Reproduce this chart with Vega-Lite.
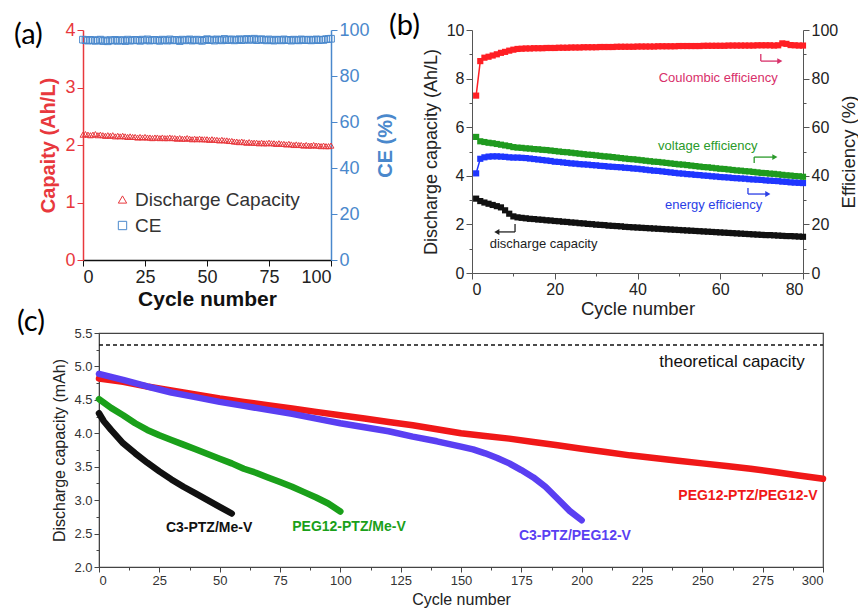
{
"$schema": "https://vega.github.io/schema/vega-lite/v6.json",
"background": "white",
"padding": {"left": 14, "top": 12, "right": 2, "bottom": 2},
"spacing": -11,
"resolve": {"scale": {"color": "independent", "shape": "independent"}, "legend": {"color": "independent", "shape": "independent"}},
"config": {"view": {"stroke": null}, "font": "Liberation Sans", "axis": {"grid": false, "labelFont": "Liberation Sans", "titleFont": "Liberation Sans"}},
"datasets": {
"aDC": [
{"x":0,"y":2.18,"s":"Discharge Capacity"},{"x":1,"y":2.19,"s":"Discharge Capacity"},{"x":2,"y":2.18,"s":"Discharge Capacity"},{"x":3,"y":2.17,"s":"Discharge Capacity"},{"x":4,"y":2.18,"s":"Discharge Capacity"},{"x":5,"y":2.19,"s":"Discharge Capacity"},{"x":6,"y":2.17,"s":"Discharge Capacity"},{"x":7,"y":2.18,"s":"Discharge Capacity"},{"x":8,"y":2.17,"s":"Discharge Capacity"},{"x":9,"y":2.16,"s":"Discharge Capacity"},
{"x":10,"y":2.17,"s":"Discharge Capacity"},{"x":11,"y":2.16,"s":"Discharge Capacity"},{"x":12,"y":2.17,"s":"Discharge Capacity"},{"x":13,"y":2.15,"s":"Discharge Capacity"},{"x":14,"y":2.16,"s":"Discharge Capacity"},{"x":15,"y":2.15,"s":"Discharge Capacity"},{"x":16,"y":2.16,"s":"Discharge Capacity"},{"x":17,"y":2.15,"s":"Discharge Capacity"},{"x":18,"y":2.14,"s":"Discharge Capacity"},{"x":19,"y":2.15,"s":"Discharge Capacity"},
{"x":20,"y":2.14,"s":"Discharge Capacity"},{"x":21,"y":2.14,"s":"Discharge Capacity"},{"x":22,"y":2.13,"s":"Discharge Capacity"},{"x":23,"y":2.14,"s":"Discharge Capacity"},{"x":24,"y":2.13,"s":"Discharge Capacity"},{"x":25,"y":2.14,"s":"Discharge Capacity"},{"x":26,"y":2.13,"s":"Discharge Capacity"},{"x":27,"y":2.13,"s":"Discharge Capacity"},{"x":28,"y":2.12,"s":"Discharge Capacity"},{"x":29,"y":2.13,"s":"Discharge Capacity"},
{"x":30,"y":2.13,"s":"Discharge Capacity"},{"x":31,"y":2.12,"s":"Discharge Capacity"},{"x":32,"y":2.13,"s":"Discharge Capacity"},{"x":33,"y":2.12,"s":"Discharge Capacity"},{"x":34,"y":2.12,"s":"Discharge Capacity"},{"x":35,"y":2.13,"s":"Discharge Capacity"},{"x":36,"y":2.12,"s":"Discharge Capacity"},{"x":37,"y":2.12,"s":"Discharge Capacity"},{"x":38,"y":2.11,"s":"Discharge Capacity"},{"x":39,"y":2.12,"s":"Discharge Capacity"},
{"x":40,"y":2.11,"s":"Discharge Capacity"},{"x":41,"y":2.11,"s":"Discharge Capacity"},{"x":42,"y":2.12,"s":"Discharge Capacity"},{"x":43,"y":2.11,"s":"Discharge Capacity"},{"x":44,"y":2.10,"s":"Discharge Capacity"},{"x":45,"y":2.11,"s":"Discharge Capacity"},{"x":46,"y":2.10,"s":"Discharge Capacity"},{"x":47,"y":2.11,"s":"Discharge Capacity"},{"x":48,"y":2.10,"s":"Discharge Capacity"},{"x":49,"y":2.10,"s":"Discharge Capacity"},
{"x":50,"y":2.10,"s":"Discharge Capacity"},{"x":51,"y":2.09,"s":"Discharge Capacity"},{"x":52,"y":2.10,"s":"Discharge Capacity"},{"x":53,"y":2.09,"s":"Discharge Capacity"},{"x":54,"y":2.09,"s":"Discharge Capacity"},{"x":55,"y":2.08,"s":"Discharge Capacity"},{"x":56,"y":2.09,"s":"Discharge Capacity"},{"x":57,"y":2.08,"s":"Discharge Capacity"},{"x":58,"y":2.08,"s":"Discharge Capacity"},{"x":59,"y":2.07,"s":"Discharge Capacity"},
{"x":60,"y":2.07,"s":"Discharge Capacity"},{"x":61,"y":2.06,"s":"Discharge Capacity"},{"x":62,"y":2.06,"s":"Discharge Capacity"},{"x":63,"y":2.05,"s":"Discharge Capacity"},{"x":64,"y":2.06,"s":"Discharge Capacity"},{"x":65,"y":2.05,"s":"Discharge Capacity"},{"x":66,"y":2.04,"s":"Discharge Capacity"},{"x":67,"y":2.05,"s":"Discharge Capacity"},{"x":68,"y":2.04,"s":"Discharge Capacity"},{"x":69,"y":2.04,"s":"Discharge Capacity"},
{"x":70,"y":2.04,"s":"Discharge Capacity"},{"x":71,"y":2.03,"s":"Discharge Capacity"},{"x":72,"y":2.04,"s":"Discharge Capacity"},{"x":73,"y":2.03,"s":"Discharge Capacity"},{"x":74,"y":2.03,"s":"Discharge Capacity"},{"x":75,"y":2.04,"s":"Discharge Capacity"},{"x":76,"y":2.03,"s":"Discharge Capacity"},{"x":77,"y":2.03,"s":"Discharge Capacity"},{"x":78,"y":2.02,"s":"Discharge Capacity"},{"x":79,"y":2.03,"s":"Discharge Capacity"},
{"x":80,"y":2.02,"s":"Discharge Capacity"},{"x":81,"y":2.02,"s":"Discharge Capacity"},{"x":82,"y":2.01,"s":"Discharge Capacity"},{"x":83,"y":2.02,"s":"Discharge Capacity"},{"x":84,"y":2.01,"s":"Discharge Capacity"},{"x":85,"y":2.00,"s":"Discharge Capacity"},{"x":86,"y":2.01,"s":"Discharge Capacity"},{"x":87,"y":2.00,"s":"Discharge Capacity"},{"x":88,"y":2.00,"s":"Discharge Capacity"},{"x":89,"y":1.99,"s":"Discharge Capacity"},
{"x":90,"y":2.00,"s":"Discharge Capacity"},{"x":91,"y":1.99,"s":"Discharge Capacity"},{"x":92,"y":1.99,"s":"Discharge Capacity"},{"x":93,"y":2.00,"s":"Discharge Capacity"},{"x":94,"y":1.99,"s":"Discharge Capacity"},{"x":95,"y":1.99,"s":"Discharge Capacity"},{"x":96,"y":1.98,"s":"Discharge Capacity"},{"x":97,"y":1.99,"s":"Discharge Capacity"},{"x":98,"y":1.98,"s":"Discharge Capacity"},{"x":99,"y":1.98,"s":"Discharge Capacity"},{"x":100,"y":1.99,"s":"Discharge Capacity"}
],
"aCE": [
{"x":0,"y":95.8,"s":"CE"},{"x":1,"y":95.6,"s":"CE"},{"x":2,"y":95.4,"s":"CE"},{"x":3,"y":95.7,"s":"CE"},{"x":4,"y":95.5,"s":"CE"},{"x":5,"y":95.3,"s":"CE"},{"x":6,"y":95.6,"s":"CE"},{"x":7,"y":95.8,"s":"CE"},{"x":8,"y":95.2,"s":"CE"},{"x":9,"y":95.5,"s":"CE"},
{"x":10,"y":95.1,"s":"CE"},{"x":11,"y":95.6,"s":"CE"},{"x":12,"y":95.4,"s":"CE"},{"x":13,"y":95.7,"s":"CE"},{"x":14,"y":95.3,"s":"CE"},{"x":15,"y":95.5,"s":"CE"},{"x":16,"y":95.6,"s":"CE"},{"x":17,"y":95.2,"s":"CE"},{"x":18,"y":95.8,"s":"CE"},{"x":19,"y":95.4,"s":"CE"},
{"x":20,"y":95.5,"s":"CE"},{"x":21,"y":95.7,"s":"CE"},{"x":22,"y":95.6,"s":"CE"},{"x":23,"y":95.3,"s":"CE"},{"x":24,"y":95.8,"s":"CE"},{"x":25,"y":95.5,"s":"CE"},{"x":26,"y":95.9,"s":"CE"},{"x":27,"y":95.4,"s":"CE"},{"x":28,"y":95.6,"s":"CE"},{"x":29,"y":95.7,"s":"CE"},
{"x":30,"y":95.5,"s":"CE"},{"x":31,"y":95.3,"s":"CE"},{"x":32,"y":95.8,"s":"CE"},{"x":33,"y":95.6,"s":"CE"},{"x":34,"y":95.4,"s":"CE"},{"x":35,"y":95.9,"s":"CE"},{"x":36,"y":95.5,"s":"CE"},{"x":37,"y":95.7,"s":"CE"},{"x":38,"y":95.6,"s":"CE"},{"x":39,"y":95.2,"s":"CE"},
{"x":40,"y":95.8,"s":"CE"},{"x":41,"y":95.5,"s":"CE"},{"x":42,"y":95.7,"s":"CE"},{"x":43,"y":95.9,"s":"CE"},{"x":44,"y":95.4,"s":"CE"},{"x":45,"y":95.6,"s":"CE"},{"x":46,"y":95.8,"s":"CE"},{"x":47,"y":95.5,"s":"CE"},{"x":48,"y":95.3,"s":"CE"},{"x":49,"y":95.7,"s":"CE"},
{"x":50,"y":96.0,"s":"CE"},{"x":51,"y":95.6,"s":"CE"},{"x":52,"y":95.8,"s":"CE"},{"x":53,"y":95.4,"s":"CE"},{"x":54,"y":95.9,"s":"CE"},{"x":55,"y":95.7,"s":"CE"},{"x":56,"y":95.5,"s":"CE"},{"x":57,"y":96.1,"s":"CE"},{"x":58,"y":95.6,"s":"CE"},{"x":59,"y":95.8,"s":"CE"},
{"x":60,"y":95.9,"s":"CE"},{"x":61,"y":95.5,"s":"CE"},{"x":62,"y":95.7,"s":"CE"},{"x":63,"y":96.0,"s":"CE"},{"x":64,"y":95.6,"s":"CE"},{"x":65,"y":95.8,"s":"CE"},{"x":66,"y":96.1,"s":"CE"},{"x":67,"y":95.7,"s":"CE"},{"x":68,"y":95.9,"s":"CE"},{"x":69,"y":96.2,"s":"CE"},
{"x":70,"y":95.6,"s":"CE"},{"x":71,"y":95.8,"s":"CE"},{"x":72,"y":96.0,"s":"CE"},{"x":73,"y":95.7,"s":"CE"},{"x":74,"y":95.5,"s":"CE"},{"x":75,"y":95.9,"s":"CE"},{"x":76,"y":95.6,"s":"CE"},{"x":77,"y":95.4,"s":"CE"},{"x":78,"y":95.8,"s":"CE"},{"x":79,"y":95.7,"s":"CE"},
{"x":80,"y":95.5,"s":"CE"},{"x":81,"y":95.9,"s":"CE"},{"x":82,"y":95.6,"s":"CE"},{"x":83,"y":95.7,"s":"CE"},{"x":84,"y":95.4,"s":"CE"},{"x":85,"y":95.8,"s":"CE"},{"x":86,"y":95.6,"s":"CE"},{"x":87,"y":95.5,"s":"CE"},{"x":88,"y":95.9,"s":"CE"},{"x":89,"y":95.7,"s":"CE"},
{"x":90,"y":95.6,"s":"CE"},{"x":91,"y":95.8,"s":"CE"},{"x":92,"y":95.5,"s":"CE"},{"x":93,"y":95.7,"s":"CE"},{"x":94,"y":95.9,"s":"CE"},{"x":95,"y":95.6,"s":"CE"},{"x":96,"y":95.8,"s":"CE"},{"x":97,"y":95.7,"s":"CE"},{"x":98,"y":96.0,"s":"CE"},{"x":99,"y":96.1,"s":"CE"},{"x":100,"y":96.2,"s":"CE"}
],
"bDC": [
{"x":1,"y":3.06},{"x":2,"y":2.96},{"x":3,"y":2.9},{"x":4,"y":2.85},{"x":5,"y":2.8},{"x":6,"y":2.75},{"x":7,"y":2.7},{"x":8,"y":2.58},{"x":9,"y":2.44},{"x":10,"y":2.33},
{"x":11,"y":2.29},{"x":12,"y":2.27},{"x":13,"y":2.25},{"x":14,"y":2.23},{"x":15,"y":2.22},{"x":16,"y":2.2},{"x":17,"y":2.19},{"x":18,"y":2.17},{"x":19,"y":2.16},{"x":20,"y":2.14},
{"x":21,"y":2.13},{"x":22,"y":2.11},{"x":23,"y":2.1},{"x":24,"y":2.08},{"x":25,"y":2.07},{"x":26,"y":2.05},{"x":27,"y":2.04},{"x":28,"y":2.02},{"x":29,"y":2.01},{"x":30,"y":1.99},
{"x":31,"y":1.98},{"x":32,"y":1.97},{"x":33,"y":1.95},{"x":34,"y":1.94},{"x":35,"y":1.93},{"x":36,"y":1.92},{"x":37,"y":1.9},{"x":38,"y":1.89},{"x":39,"y":1.88},{"x":40,"y":1.87},
{"x":41,"y":1.86},{"x":42,"y":1.85},{"x":43,"y":1.84},{"x":44,"y":1.83},{"x":45,"y":1.82},{"x":46,"y":1.81},{"x":47,"y":1.8},{"x":48,"y":1.79},{"x":49,"y":1.78},{"x":50,"y":1.77},
{"x":51,"y":1.76},{"x":52,"y":1.75},{"x":53,"y":1.74},{"x":54,"y":1.73},{"x":55,"y":1.72},{"x":56,"y":1.71},{"x":57,"y":1.7},{"x":58,"y":1.69},{"x":59,"y":1.68},{"x":60,"y":1.67},
{"x":61,"y":1.66},{"x":62,"y":1.65},{"x":63,"y":1.64},{"x":64,"y":1.63},{"x":65,"y":1.62},{"x":66,"y":1.61},{"x":67,"y":1.6},{"x":68,"y":1.59},{"x":69,"y":1.58},{"x":70,"y":1.57},
{"x":71,"y":1.56},{"x":72,"y":1.56},{"x":73,"y":1.55},{"x":74,"y":1.54},{"x":75,"y":1.53},{"x":76,"y":1.52},{"x":77,"y":1.52},{"x":78,"y":1.51},{"x":79,"y":1.5},{"x":80,"y":1.49}
],
"bEff": [
{"x":1,"y":73.0,"s":"c"},{"x":2,"y":87.2,"s":"c"},{"x":3,"y":88.6,"s":"c"},{"x":4,"y":89.0,"s":"c"},{"x":5,"y":89.5,"s":"c"},{"x":6,"y":90.0,"s":"c"},{"x":7,"y":90.6,"s":"c"},{"x":8,"y":91.0,"s":"c"},{"x":9,"y":91.5,"s":"c"},{"x":10,"y":91.9,"s":"c"},
{"x":11,"y":92.2,"s":"c"},{"x":12,"y":92.3,"s":"c"},{"x":13,"y":92.4,"s":"c"},{"x":14,"y":92.4,"s":"c"},{"x":15,"y":92.5,"s":"c"},{"x":16,"y":92.5,"s":"c"},{"x":17,"y":92.5,"s":"c"},{"x":18,"y":92.6,"s":"c"},{"x":19,"y":92.6,"s":"c"},{"x":20,"y":92.6,"s":"c"},
{"x":21,"y":92.7,"s":"c"},{"x":22,"y":92.7,"s":"c"},{"x":23,"y":92.7,"s":"c"},{"x":24,"y":92.8,"s":"c"},{"x":25,"y":92.8,"s":"c"},{"x":26,"y":92.8,"s":"c"},{"x":27,"y":92.9,"s":"c"},{"x":28,"y":92.9,"s":"c"},{"x":29,"y":92.9,"s":"c"},{"x":30,"y":92.9,"s":"c"},
{"x":31,"y":93.0,"s":"c"},{"x":32,"y":93.0,"s":"c"},{"x":33,"y":93.0,"s":"c"},{"x":34,"y":93.0,"s":"c"},{"x":35,"y":93.1,"s":"c"},{"x":36,"y":93.1,"s":"c"},{"x":37,"y":93.1,"s":"c"},{"x":38,"y":93.1,"s":"c"},{"x":39,"y":93.1,"s":"c"},{"x":40,"y":93.2,"s":"c"},
{"x":41,"y":93.2,"s":"c"},{"x":42,"y":93.2,"s":"c"},{"x":43,"y":93.2,"s":"c"},{"x":44,"y":93.2,"s":"c"},{"x":45,"y":93.3,"s":"c"},{"x":46,"y":93.3,"s":"c"},{"x":47,"y":93.3,"s":"c"},{"x":48,"y":93.3,"s":"c"},{"x":49,"y":93.3,"s":"c"},{"x":50,"y":93.4,"s":"c"},
{"x":51,"y":93.4,"s":"c"},{"x":52,"y":93.4,"s":"c"},{"x":53,"y":93.4,"s":"c"},{"x":54,"y":93.4,"s":"c"},{"x":55,"y":93.4,"s":"c"},{"x":56,"y":93.5,"s":"c"},{"x":57,"y":93.5,"s":"c"},{"x":58,"y":93.5,"s":"c"},{"x":59,"y":93.5,"s":"c"},{"x":60,"y":93.5,"s":"c"},
{"x":61,"y":93.5,"s":"c"},{"x":62,"y":93.6,"s":"c"},{"x":63,"y":93.6,"s":"c"},{"x":64,"y":93.6,"s":"c"},{"x":65,"y":93.6,"s":"c"},{"x":66,"y":93.6,"s":"c"},{"x":67,"y":93.6,"s":"c"},{"x":68,"y":93.6,"s":"c"},{"x":69,"y":93.7,"s":"c"},{"x":70,"y":93.7,"s":"c"},
{"x":71,"y":93.7,"s":"c"},{"x":72,"y":93.7,"s":"c"},{"x":73,"y":93.6,"s":"c"},{"x":74,"y":93.7,"s":"c"},{"x":75,"y":94.5,"s":"c"},{"x":76,"y":94.3,"s":"c"},{"x":77,"y":93.8,"s":"c"},{"x":78,"y":93.7,"s":"c"},{"x":79,"y":93.6,"s":"c"},{"x":80,"y":93.6,"s":"c"},
{"x":1,"y":56.0,"s":"v"},{"x":2,"y":54.2,"s":"v"},{"x":3,"y":53.9,"s":"v"},{"x":4,"y":53.6,"s":"v"},{"x":5,"y":53.4,"s":"v"},{"x":6,"y":53.1,"s":"v"},{"x":7,"y":52.8,"s":"v"},{"x":8,"y":52.5,"s":"v"},{"x":9,"y":52.2,"s":"v"},{"x":10,"y":51.8,"s":"v"},
{"x":11,"y":51.6,"s":"v"},{"x":12,"y":51.5,"s":"v"},{"x":13,"y":51.3,"s":"v"},{"x":14,"y":51.2,"s":"v"},{"x":15,"y":51.0,"s":"v"},{"x":16,"y":50.9,"s":"v"},{"x":17,"y":50.7,"s":"v"},{"x":18,"y":50.6,"s":"v"},{"x":19,"y":50.4,"s":"v"},{"x":20,"y":50.2,"s":"v"},
{"x":21,"y":50.0,"s":"v"},{"x":22,"y":49.8,"s":"v"},{"x":23,"y":49.7,"s":"v"},{"x":24,"y":49.5,"s":"v"},{"x":25,"y":49.3,"s":"v"},{"x":26,"y":49.1,"s":"v"},{"x":27,"y":48.9,"s":"v"},{"x":28,"y":48.7,"s":"v"},{"x":29,"y":48.6,"s":"v"},{"x":30,"y":48.4,"s":"v"},
{"x":31,"y":48.2,"s":"v"},{"x":32,"y":48.0,"s":"v"},{"x":33,"y":47.9,"s":"v"},{"x":34,"y":47.7,"s":"v"},{"x":35,"y":47.5,"s":"v"},{"x":36,"y":47.3,"s":"v"},{"x":37,"y":47.1,"s":"v"},{"x":38,"y":46.9,"s":"v"},{"x":39,"y":46.8,"s":"v"},{"x":40,"y":46.6,"s":"v"},
{"x":41,"y":46.4,"s":"v"},{"x":42,"y":46.2,"s":"v"},{"x":43,"y":46.0,"s":"v"},{"x":44,"y":45.8,"s":"v"},{"x":45,"y":45.7,"s":"v"},{"x":46,"y":45.5,"s":"v"},{"x":47,"y":45.3,"s":"v"},{"x":48,"y":45.1,"s":"v"},{"x":49,"y":44.9,"s":"v"},{"x":50,"y":44.7,"s":"v"},
{"x":51,"y":44.6,"s":"v"},{"x":52,"y":44.4,"s":"v"},{"x":53,"y":44.2,"s":"v"},{"x":54,"y":44.0,"s":"v"},{"x":55,"y":43.8,"s":"v"},{"x":56,"y":43.6,"s":"v"},{"x":57,"y":43.5,"s":"v"},{"x":58,"y":43.3,"s":"v"},{"x":59,"y":43.1,"s":"v"},{"x":60,"y":42.9,"s":"v"},
{"x":61,"y":42.8,"s":"v"},{"x":62,"y":42.6,"s":"v"},{"x":63,"y":42.4,"s":"v"},{"x":64,"y":42.2,"s":"v"},{"x":65,"y":42.1,"s":"v"},{"x":66,"y":41.9,"s":"v"},{"x":67,"y":41.8,"s":"v"},{"x":68,"y":41.6,"s":"v"},{"x":69,"y":41.4,"s":"v"},{"x":70,"y":41.2,"s":"v"},
{"x":71,"y":41.1,"s":"v"},{"x":72,"y":40.9,"s":"v"},{"x":73,"y":40.8,"s":"v"},{"x":74,"y":40.6,"s":"v"},{"x":75,"y":40.4,"s":"v"},{"x":76,"y":40.2,"s":"v"},{"x":77,"y":40.1,"s":"v"},{"x":78,"y":39.9,"s":"v"},{"x":79,"y":39.8,"s":"v"},{"x":80,"y":39.6,"s":"v"},
{"x":1,"y":41.0,"s":"e"},{"x":2,"y":47.0,"s":"e"},{"x":3,"y":47.6,"s":"e"},{"x":4,"y":47.9,"s":"e"},{"x":5,"y":48.0,"s":"e"},{"x":6,"y":48.0,"s":"e"},{"x":7,"y":47.9,"s":"e"},{"x":8,"y":47.8,"s":"e"},{"x":9,"y":47.6,"s":"e"},{"x":10,"y":47.5,"s":"e"},
{"x":11,"y":47.5,"s":"e"},{"x":12,"y":47.4,"s":"e"},{"x":13,"y":47.3,"s":"e"},{"x":14,"y":47.1,"s":"e"},{"x":15,"y":46.9,"s":"e"},{"x":16,"y":46.7,"s":"e"},{"x":17,"y":46.5,"s":"e"},{"x":18,"y":46.3,"s":"e"},{"x":19,"y":46.1,"s":"e"},{"x":20,"y":45.8,"s":"e"},
{"x":21,"y":45.7,"s":"e"},{"x":22,"y":45.5,"s":"e"},{"x":23,"y":45.3,"s":"e"},{"x":24,"y":45.1,"s":"e"},{"x":25,"y":45.0,"s":"e"},{"x":26,"y":44.8,"s":"e"},{"x":27,"y":44.7,"s":"e"},{"x":28,"y":44.6,"s":"e"},{"x":29,"y":44.4,"s":"e"},{"x":30,"y":44.3,"s":"e"},
{"x":31,"y":44.1,"s":"e"},{"x":32,"y":44.0,"s":"e"},{"x":33,"y":43.8,"s":"e"},{"x":34,"y":43.7,"s":"e"},{"x":35,"y":43.6,"s":"e"},{"x":36,"y":43.5,"s":"e"},{"x":37,"y":43.3,"s":"e"},{"x":38,"y":43.2,"s":"e"},{"x":39,"y":43.0,"s":"e"},{"x":40,"y":42.9,"s":"e"},
{"x":41,"y":42.7,"s":"e"},{"x":42,"y":42.5,"s":"e"},{"x":43,"y":42.3,"s":"e"},{"x":44,"y":42.1,"s":"e"},{"x":45,"y":42.0,"s":"e"},{"x":46,"y":41.8,"s":"e"},{"x":47,"y":41.6,"s":"e"},{"x":48,"y":41.4,"s":"e"},{"x":49,"y":41.2,"s":"e"},{"x":50,"y":41.0,"s":"e"},
{"x":51,"y":40.9,"s":"e"},{"x":52,"y":40.7,"s":"e"},{"x":53,"y":40.6,"s":"e"},{"x":54,"y":40.4,"s":"e"},{"x":55,"y":40.3,"s":"e"},{"x":56,"y":40.1,"s":"e"},{"x":57,"y":40.0,"s":"e"},{"x":58,"y":39.8,"s":"e"},{"x":59,"y":39.7,"s":"e"},{"x":60,"y":39.5,"s":"e"},
{"x":61,"y":39.4,"s":"e"},{"x":62,"y":39.3,"s":"e"},{"x":63,"y":39.1,"s":"e"},{"x":64,"y":39.0,"s":"e"},{"x":65,"y":38.9,"s":"e"},{"x":66,"y":38.8,"s":"e"},{"x":67,"y":38.6,"s":"e"},{"x":68,"y":38.5,"s":"e"},{"x":69,"y":38.4,"s":"e"},{"x":70,"y":38.3,"s":"e"},
{"x":71,"y":38.1,"s":"e"},{"x":72,"y":38.0,"s":"e"},{"x":73,"y":37.9,"s":"e"},{"x":74,"y":37.8,"s":"e"},{"x":75,"y":37.6,"s":"e"},{"x":76,"y":37.5,"s":"e"},{"x":77,"y":37.3,"s":"e"},{"x":78,"y":37.2,"s":"e"},{"x":79,"y":37.1,"s":"e"},{"x":80,"y":37.0,"s":"e"}
],
"bText": [
{"x":59.5,"y":8.02,"g":"c","t":"Coulombic efficiency"},
{"x":57.0,"y":5.23,"g":"v","t":"voltage efficiency"},
{"x":58.4,"y":2.81,"g":"e","t":"energy efficiency"},
{"x":17.3,"y":1.21,"g":"d","t":"discharge capacity"}
],
"bArrow": [
{"x":69.8,"y":9.01,"x2":69.8,"y2":8.72,"g":"c"},{"x":69.8,"y":8.72,"x2":74.0,"y2":8.72,"g":"c"},
{"x":68.2,"y":4.53,"x2":68.2,"y2":4.77,"g":"v"},{"x":68.2,"y":4.77,"x2":72.8,"y2":4.77,"g":"v"},
{"x":66.7,"y":3.50,"x2":66.7,"y2":3.25,"g":"e"},{"x":66.7,"y":3.25,"x2":71.1,"y2":3.25,"g":"e"},
{"x":10.4,"y":2.02,"x2":10.4,"y2":1.69,"g":"d"},{"x":10.4,"y":1.69,"x2":6.4,"y2":1.69,"g":"d"}
],
"bHead": [
{"x":74.4,"y":8.72,"g":"c","d":"r"},
{"x":73.2,"y":4.77,"g":"v","d":"r"},
{"x":71.5,"y":3.25,"g":"e","d":"r"},
{"x":6.0,"y":1.69,"g":"d","d":"l"}
],
"cLines": [
{"x":0,"y":4.3,"s":"C3-PTZ/Me-V"},{"x":2,"y":4.18,"s":"C3-PTZ/Me-V"},{"x":5,"y":4.05,"s":"C3-PTZ/Me-V"},{"x":10,"y":3.85,"s":"C3-PTZ/Me-V"},{"x":15,"y":3.7,"s":"C3-PTZ/Me-V"},{"x":20,"y":3.56,"s":"C3-PTZ/Me-V"},{"x":25,"y":3.43,"s":"C3-PTZ/Me-V"},{"x":30,"y":3.31,"s":"C3-PTZ/Me-V"},{"x":35,"y":3.2,"s":"C3-PTZ/Me-V"},{"x":40,"y":3.1,"s":"C3-PTZ/Me-V"},{"x":45,"y":3.0,"s":"C3-PTZ/Me-V"},{"x":50,"y":2.9,"s":"C3-PTZ/Me-V"},{"x":55,"y":2.8,"s":"C3-PTZ/Me-V"},
{"x":0,"y":4.51,"s":"PEG12-PTZ/Me-V"},{"x":5,"y":4.38,"s":"PEG12-PTZ/Me-V"},{"x":10,"y":4.27,"s":"PEG12-PTZ/Me-V"},{"x":15,"y":4.15,"s":"PEG12-PTZ/Me-V"},{"x":20,"y":4.05,"s":"PEG12-PTZ/Me-V"},{"x":25,"y":3.97,"s":"PEG12-PTZ/Me-V"},{"x":30,"y":3.9,"s":"PEG12-PTZ/Me-V"},{"x":35,"y":3.83,"s":"PEG12-PTZ/Me-V"},{"x":40,"y":3.76,"s":"PEG12-PTZ/Me-V"},{"x":45,"y":3.69,"s":"PEG12-PTZ/Me-V"},{"x":50,"y":3.62,"s":"PEG12-PTZ/Me-V"},{"x":55,"y":3.55,"s":"PEG12-PTZ/Me-V"},{"x":60,"y":3.47,"s":"PEG12-PTZ/Me-V"},{"x":65,"y":3.41,"s":"PEG12-PTZ/Me-V"},{"x":70,"y":3.34,"s":"PEG12-PTZ/Me-V"},{"x":75,"y":3.27,"s":"PEG12-PTZ/Me-V"},{"x":80,"y":3.2,"s":"PEG12-PTZ/Me-V"},{"x":85,"y":3.12,"s":"PEG12-PTZ/Me-V"},{"x":90,"y":3.04,"s":"PEG12-PTZ/Me-V"},{"x":95,"y":2.95,"s":"PEG12-PTZ/Me-V"},{"x":100,"y":2.83,"s":"PEG12-PTZ/Me-V"},
{"x":0,"y":4.82,"s":"PEG12-PTZ/PEG12-V"},{"x":10,"y":4.77,"s":"PEG12-PTZ/PEG12-V"},{"x":20,"y":4.7,"s":"PEG12-PTZ/PEG12-V"},{"x":30,"y":4.64,"s":"PEG12-PTZ/PEG12-V"},{"x":40,"y":4.58,"s":"PEG12-PTZ/PEG12-V"},{"x":50,"y":4.52,"s":"PEG12-PTZ/PEG12-V"},{"x":60,"y":4.47,"s":"PEG12-PTZ/PEG12-V"},{"x":70,"y":4.42,"s":"PEG12-PTZ/PEG12-V"},{"x":80,"y":4.37,"s":"PEG12-PTZ/PEG12-V"},{"x":90,"y":4.32,"s":"PEG12-PTZ/PEG12-V"},{"x":100,"y":4.27,"s":"PEG12-PTZ/PEG12-V"},{"x":110,"y":4.22,"s":"PEG12-PTZ/PEG12-V"},{"x":120,"y":4.17,"s":"PEG12-PTZ/PEG12-V"},{"x":130,"y":4.12,"s":"PEG12-PTZ/PEG12-V"},{"x":140,"y":4.06,"s":"PEG12-PTZ/PEG12-V"},{"x":150,"y":4.0,"s":"PEG12-PTZ/PEG12-V"},{"x":160,"y":3.96,"s":"PEG12-PTZ/PEG12-V"},{"x":170,"y":3.92,"s":"PEG12-PTZ/PEG12-V"},{"x":180,"y":3.87,"s":"PEG12-PTZ/PEG12-V"},{"x":190,"y":3.82,"s":"PEG12-PTZ/PEG12-V"},{"x":200,"y":3.77,"s":"PEG12-PTZ/PEG12-V"},{"x":210,"y":3.72,"s":"PEG12-PTZ/PEG12-V"},{"x":220,"y":3.67,"s":"PEG12-PTZ/PEG12-V"},{"x":230,"y":3.63,"s":"PEG12-PTZ/PEG12-V"},{"x":240,"y":3.59,"s":"PEG12-PTZ/PEG12-V"},{"x":250,"y":3.55,"s":"PEG12-PTZ/PEG12-V"},{"x":260,"y":3.51,"s":"PEG12-PTZ/PEG12-V"},{"x":270,"y":3.47,"s":"PEG12-PTZ/PEG12-V"},{"x":280,"y":3.42,"s":"PEG12-PTZ/PEG12-V"},{"x":290,"y":3.37,"s":"PEG12-PTZ/PEG12-V"},{"x":300,"y":3.32,"s":"PEG12-PTZ/PEG12-V"},
{"x":0,"y":4.89,"s":"C3-PTZ/PEG12-V"},{"x":10,"y":4.8,"s":"C3-PTZ/PEG12-V"},{"x":20,"y":4.7,"s":"C3-PTZ/PEG12-V"},{"x":30,"y":4.61,"s":"C3-PTZ/PEG12-V"},{"x":40,"y":4.54,"s":"C3-PTZ/PEG12-V"},{"x":50,"y":4.47,"s":"C3-PTZ/PEG12-V"},{"x":60,"y":4.41,"s":"C3-PTZ/PEG12-V"},{"x":70,"y":4.35,"s":"C3-PTZ/PEG12-V"},{"x":80,"y":4.29,"s":"C3-PTZ/PEG12-V"},{"x":90,"y":4.22,"s":"C3-PTZ/PEG12-V"},{"x":100,"y":4.15,"s":"C3-PTZ/PEG12-V"},{"x":110,"y":4.09,"s":"C3-PTZ/PEG12-V"},{"x":120,"y":4.03,"s":"C3-PTZ/PEG12-V"},{"x":130,"y":3.95,"s":"C3-PTZ/PEG12-V"},{"x":140,"y":3.88,"s":"C3-PTZ/PEG12-V"},{"x":150,"y":3.8,"s":"C3-PTZ/PEG12-V"},{"x":155,"y":3.76,"s":"C3-PTZ/PEG12-V"},{"x":160,"y":3.7,"s":"C3-PTZ/PEG12-V"},{"x":165,"y":3.63,"s":"C3-PTZ/PEG12-V"},{"x":170,"y":3.55,"s":"C3-PTZ/PEG12-V"},{"x":175,"y":3.45,"s":"C3-PTZ/PEG12-V"},{"x":180,"y":3.34,"s":"C3-PTZ/PEG12-V"},{"x":185,"y":3.2,"s":"C3-PTZ/PEG12-V"},{"x":190,"y":3.02,"s":"C3-PTZ/PEG12-V"},{"x":195,"y":2.84,"s":"C3-PTZ/PEG12-V"},{"x":200,"y":2.7,"s":"C3-PTZ/PEG12-V"}
],
"cLabels": [
{"x":45.6,"y":2.58,"s":"C3-PTZ/Me-V"},
{"x":103.6,"y":2.6,"s":"PEG12-PTZ/Me-V"},
{"x":197.2,"y":2.46,"s":"C3-PTZ/PEG12-V"},
{"x":268.9,"y":3.06,"s":"PEG12-PTZ/PEG12-V"}
],
"cTheo": [{"x":0,"x2":300,"y":5.32}],
"cTheoLabel": [{"x":262.3,"y":5.07,"t":"theoretical capacity"}],
"spacer": [{"x":0}]
},
"vconcat": [
{"hconcat": [
{
"width": 248, "height": 230,
"title": {"text": "(a)", "anchor": "start", "frame": "group", "orient": "top", "font": "Lato", "fontSize": 29, "fontWeight": "normal", "color": "#000", "dx": -69, "dy": 29, "offset": 0},
"encoding": {"x": {"field": "x", "type": "quantitative", "scale": {"domain": [0, 100], "nice": false}, "axis": {"values": [0, 25, 50, 75, 100], "title": "Cycle number", "titleFontSize": 21, "titleFontWeight": "bold", "titleColor": "#111", "labelFontSize": 18, "labelColor": "#222", "domainColor": "#111", "tickColor": "#111", "tickSize": 6, "titlePadding": 2, "domainWidth": 1.5}}},
"layer": [
{"data": {"name": "aDC"}, "mark": {"type": "point", "filled": false, "strokeWidth": 1, "size": 35, "opacity": 1},
 "encoding": {"y": {"field": "y", "type": "quantitative", "scale": {"domain": [0, 4], "nice": false}, "axis": {"orient": "left", "values": [0, 1, 2, 3, 4], "title": "Capaity (Ah/L)", "titleFontSize": 20, "titleFontWeight": "bold", "titleColor": "#e8383d", "labelColor": "#e8383d", "labelFontSize": 18, "domainColor": "#e8383d", "tickColor": "#e8383d", "tickSize": 6, "domainWidth": 1.5, "titlePadding": 6}},
  "color": {"field": "s", "type": "nominal", "scale": {"domain": ["Discharge Capacity", "CE"], "range": ["#e8383d", "#4a88cc"]}, "legend": {"orient": "none", "legendX": 30, "legendY": 160, "title": null, "labelFontSize": 19, "labelColor": "#333", "labelLimit": 300, "symbolSize": 70, "symbolStrokeWidth": 1, "rowPadding": 6, "labelOffset": 3}},
  "shape": {"field": "s", "type": "nominal", "scale": {"domain": ["Discharge Capacity", "CE"], "range": ["triangle-up", "square"]}, "legend": {"orient": "none", "legendX": 30, "legendY": 160, "title": null, "labelFontSize": 19, "labelColor": "#333", "labelLimit": 300, "symbolSize": 70, "symbolStrokeWidth": 1, "rowPadding": 6, "labelOffset": 3}}}},
{"data": {"name": "aCE"}, "mark": {"type": "point", "filled": false, "strokeWidth": 1, "size": 45, "opacity": 1},
 "encoding": {"y": {"field": "y", "type": "quantitative", "scale": {"domain": [0, 100], "nice": false}, "axis": {"orient": "right", "values": [0, 20, 40, 60, 80, 100], "title": "CE (%)", "titleAngle": 270, "titleBaseline": "top", "titleFontSize": 20, "titleFontWeight": "bold", "titleColor": "#4a88cc", "labelColor": "#4a88cc", "labelFontSize": 18, "domainColor": "#4a88cc", "tickColor": "#4a88cc", "tickSize": 6, "domainWidth": 1.5, "titlePadding": 6}},
  "color": {"field": "s", "type": "nominal", "scale": {"domain": ["Discharge Capacity", "CE"], "range": ["#e8383d", "#4a88cc"]}, "legend": {"orient": "none", "legendX": 30, "legendY": 160, "title": null, "labelFontSize": 19, "labelColor": "#333", "labelLimit": 300, "symbolSize": 70, "symbolStrokeWidth": 1, "rowPadding": 6, "labelOffset": 3}},
  "shape": {"field": "s", "type": "nominal", "scale": {"domain": ["Discharge Capacity", "CE"], "range": ["triangle-up", "square"]}, "legend": {"orient": "none", "legendX": 30, "legendY": 160, "title": null, "labelFontSize": 19, "labelColor": "#333", "labelLimit": 300, "symbolSize": 70, "symbolStrokeWidth": 1, "rowPadding": 6, "labelOffset": 3}}}}
],
"resolve": {"scale": {"y": "independent"}}
},
{
"width": 331, "height": 243,
"title": {"text": "(b)", "anchor": "start", "frame": "group", "orient": "top", "font": "Lato", "fontSize": 29, "fontWeight": "normal", "color": "#000", "dx": -83, "dy": 19, "offset": 0},
"encoding": {"x": {"field": "x", "type": "quantitative", "scale": {"domain": [0, 80], "nice": false}, "axis": {"values": [0, 10, 20, 30, 40, 50, 60, 70, 80], "labelExpr": "datum.value % 20 === 0 ? datum.label : ''", "tickSize": {"condition": {"test": "datum.value % 20 === 0", "value": 6}, "value": 3}, "title": "Cycle number", "titleFontSize": 18.5, "titleFontWeight": "normal", "titleColor": "#222", "labelFontSize": 16, "labelColor": "#222", "domainColor": "#555", "tickColor": "#555", "titlePadding": 2}}},
"layer": [
{"encoding": {"y": {"field": "y", "type": "quantitative", "scale": {"domain": [0, 10], "nice": false}, "axis": {"orient": "left", "values": [0, 1, 2, 3, 4, 5, 6, 7, 8, 9, 10], "labelExpr": "datum.value % 2 === 0 ? datum.label : ''", "tickSize": {"condition": {"test": "datum.value % 2 === 0", "value": 6}, "value": 3}, "title": "Discharge capacity (Ah/L)", "titleFontSize": 18, "titleFontWeight": "normal", "titleColor": "#222", "labelFontSize": 16, "labelColor": "#222", "domainColor": "#555", "tickColor": "#555", "titlePadding": 6}}},
 "layer": [
  {"data": {"name": "bDC"}, "mark": {"type": "line", "color": "#111", "strokeWidth": 1.5}},
  {"data": {"name": "bDC"}, "mark": {"type": "square", "color": "#111", "size": 38, "opacity": 1}},
  {"data": {"name": "bArrow"}, "mark": {"type": "rule", "strokeWidth": 1.3}, "encoding": {"x2": {"field": "x2"}, "y2": {"field": "y2"}, "color": {"field": "g", "type": "nominal", "scale": {"domain": ["c", "v", "e", "d"], "range": ["#d8306a", "#2a9a2a", "#2a3ee6", "#222222"]}, "legend": null}}},
  {"data": {"name": "bHead"}, "mark": {"type": "point", "filled": true, "size": 35, "opacity": 1}, "encoding": {"shape": {"field": "d", "type": "nominal", "scale": {"domain": ["r", "l"], "range": ["triangle-right", "triangle-left"]}, "legend": null}, "color": {"field": "g", "type": "nominal", "scale": {"domain": ["c", "v", "e", "d"], "range": ["#d8306a", "#2a9a2a", "#2a3ee6", "#222222"]}, "legend": null}}},
  {"data": {"name": "bText"}, "mark": {"type": "text", "fontSize": 13, "align": "center", "baseline": "middle"}, "encoding": {"text": {"field": "t"}, "color": {"field": "g", "type": "nominal", "scale": {"domain": ["c", "v", "e", "d"], "range": ["#d8306a", "#2a9a2a", "#2a3ee6", "#222222"]}, "legend": null}}}
 ]},
{"encoding": {"y": {"field": "y", "type": "quantitative", "scale": {"domain": [0, 100], "nice": false}, "axis": {"orient": "right", "values": [0, 10, 20, 30, 40, 50, 60, 70, 80, 90, 100], "labelExpr": "datum.value % 20 === 0 ? datum.label : ''", "tickSize": {"condition": {"test": "datum.value % 20 === 0", "value": 6}, "value": 3}, "title": "Efficiency (%)", "titleAngle": 270, "titleBaseline": "top", "titleFontSize": 18.5, "titleFontWeight": "normal", "titleColor": "#222", "labelFontSize": 16, "labelColor": "#222", "domainColor": "#555", "tickColor": "#555", "titlePadding": 2}},
  "color": {"field": "s", "type": "nominal", "scale": {"domain": ["c", "v", "e"], "range": ["#ff1f24", "#1f9a1f", "#1f36ff"]}, "legend": null}},
 "layer": [
  {"data": {"name": "bEff"}, "mark": {"type": "line", "strokeWidth": 1.5}},
  {"data": {"name": "bEff"}, "mark": {"type": "square", "size": 38, "opacity": 1}}
 ]}
],
"resolve": {"scale": {"y": "independent", "color": "independent"}}
}
],
"spacing": -7,
"resolve": {"scale": {"color": "independent", "shape": "independent"}, "legend": {"color": "independent", "shape": "independent"}}
},
{"hconcat": [
{"width": 1, "height": 1, "data": {"name": "spacer"}, "mark": {"type": "point", "opacity": 0}, "encoding": {}},
{
"width": 724, "height": 234,
"view": {"stroke": "#444", "strokeWidth": 1.2},
"title": {"text": "(c)", "anchor": "start", "frame": "group", "orient": "top", "font": "Lato", "fontSize": 29, "fontWeight": "normal", "color": "#000", "dx": -82, "dy": 10, "offset": 0},
"encoding": {
 "x": {"field": "x", "type": "quantitative", "scale": {"domain": [0, 300], "nice": false}, "axis": {"values": [0, 12.5, 25, 37.5, 50, 62.5, 75, 87.5, 100, 112.5, 125, 137.5, 150, 162.5, 175, 187.5, 200, 212.5, 225, 237.5, 250, 262.5, 275, 287.5, 300], "labelExpr": "datum.value % 25 === 0 ? datum.label : ''", "tickSize": {"condition": {"test": "datum.value % 25 === 0", "value": 5}, "value": 3}, "title": "Cycle number", "titleFontSize": 16, "titleFontWeight": "normal", "titleColor": "#222", "labelFontSize": 13, "labelColor": "#333", "domainColor": "#444", "tickColor": "#444", "titlePadding": 4}},
 "y": {"field": "y", "type": "quantitative", "scale": {"domain": [2, 5.5], "nice": false}, "axis": {"values": [2, 2.25, 2.5, 2.75, 3, 3.25, 3.5, 3.75, 4, 4.25, 4.5, 4.75, 5, 5.25, 5.5], "format": ".1f", "labelExpr": "(datum.value * 2) % 1 === 0 ? datum.label : ''", "tickSize": {"condition": {"test": "(datum.value * 2) % 1 === 0", "value": 5}, "value": 3}, "title": "Discharge capacity (mAh)", "titleFontSize": 16, "titleFontWeight": "normal", "titleColor": "#222", "labelFontSize": 13, "labelColor": "#333", "domainColor": "#444", "tickColor": "#444", "titlePadding": 6}}
},
"layer": [
 {"data": {"name": "cTheo"}, "mark": {"type": "rule", "strokeDash": [4, 3], "strokeWidth": 1.5, "color": "#111"}, "encoding": {"x2": {"field": "x2"}}},
 {"data": {"name": "cTheoLabel"}, "mark": {"type": "text", "fontSize": 17, "align": "center", "baseline": "middle", "color": "#111"}, "encoding": {"text": {"field": "t"}}},
 {"data": {"name": "cLines"}, "mark": {"type": "line", "strokeWidth": 6.5, "strokeCap": "round", "strokeJoin": "round"}, "encoding": {"color": {"field": "s", "type": "nominal", "scale": {"domain": ["C3-PTZ/Me-V", "PEG12-PTZ/Me-V", "PEG12-PTZ/PEG12-V", "C3-PTZ/PEG12-V"], "range": ["#111111", "#1aa01a", "#f01818", "#5a3ff2"]}, "legend": null}}},
 {"data": {"name": "cLabels"}, "mark": {"type": "text", "fontSize": 14, "fontWeight": "bold", "align": "center", "baseline": "middle"}, "encoding": {"text": {"field": "s"}, "color": {"field": "s", "type": "nominal", "scale": {"domain": ["C3-PTZ/Me-V", "PEG12-PTZ/Me-V", "PEG12-PTZ/PEG12-V", "C3-PTZ/PEG12-V"], "range": ["#111111", "#1aa01a", "#f01818", "#5a3ff2"]}, "legend": null}}}
]
}
],
"spacing": -71}
]
}
